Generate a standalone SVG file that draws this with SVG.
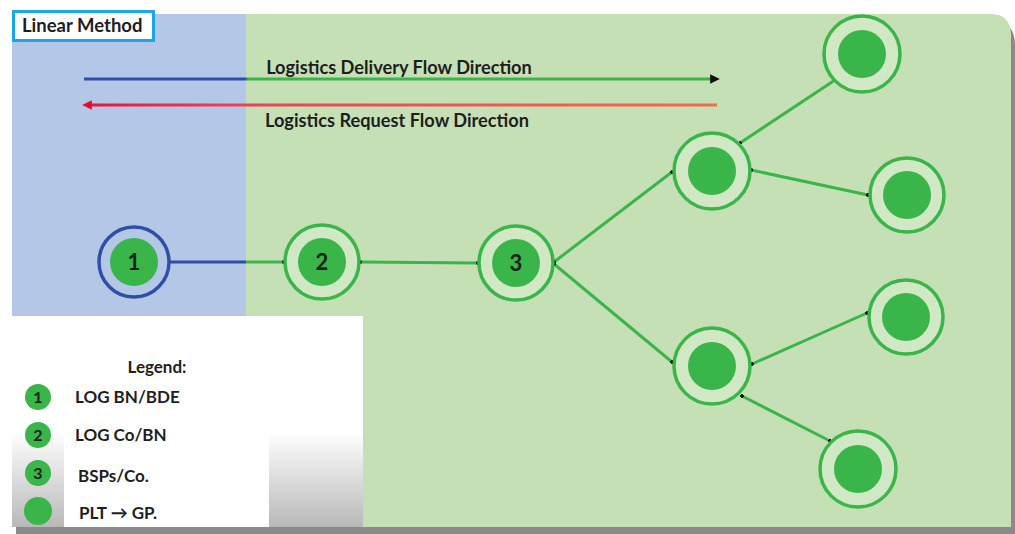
<svg xmlns="http://www.w3.org/2000/svg" width="1015" height="534" viewBox="0 0 1015 534">
<defs>
<style>
.t{font-family:Lato,"Open Sans","Liberation Sans",sans-serif;font-weight:bold;fill:#1e1e1e}
.ring{fill:#d0e8c4;stroke:#39b54a;stroke-width:3.5}
.core{fill:#39b54a}
.num{font-family:Lato,"Liberation Sans",sans-serif;font-weight:bold;font-size:22px;fill:#1a221a;text-anchor:middle}
.lnum{font-family:Lato,"Liberation Sans",sans-serif;font-weight:bold;font-size:16px;fill:#1a221a;text-anchor:middle}
.edge{stroke:#39b54a;stroke-width:3;fill:none;marker-end:url(#dot);marker-start:url(#dot)}
</style>
<marker id="dot" viewBox="0 0 4 4" refX="2" refY="2" markerWidth="1.3" markerHeight="1.3" orient="auto"><circle cx="2" cy="2" r="2" fill="#111"/></marker>
<marker id="ah" viewBox="0 0 10 10" refX="5" refY="5" markerWidth="3.2" markerHeight="3.2" orient="auto"><path d="M0,0 L10,5 L0,10 z" fill="#111"/></marker>
<marker id="ahr" viewBox="0 0 10 10" refX="5" refY="5" markerWidth="3.2" markerHeight="3.2" orient="auto-start-reverse"><path d="M0,0 L10,5 L0,10 z" fill="#e0102a"/></marker>
<linearGradient id="lg" x1="0" y1="0" x2="0" y2="1">
<stop offset="0" stop-color="#ffffff"/><stop offset="0.55" stop-color="#ffffff"/><stop offset="1" stop-color="#b8b8b8"/>
</linearGradient>
<linearGradient id="del" x1="83" y1="0" x2="718" y2="0" gradientUnits="userSpaceOnUse">
<stop offset="0" stop-color="#2e4fa8"/><stop offset="0.255" stop-color="#2e4fa8"/><stop offset="0.26" stop-color="#39b54a"/><stop offset="1" stop-color="#39b54a"/>
</linearGradient>
<linearGradient id="req" x1="83" y1="0" x2="718" y2="0" gradientUnits="userSpaceOnUse">
<stop offset="0" stop-color="#e8143a"/><stop offset="0.25" stop-color="#f0405a"/><stop offset="1" stop-color="#f26c4f"/>
</linearGradient>
</defs>
<rect width="1015" height="534" fill="#ffffff"/>
<!-- shadow -->
<path d="M16,20 H990 Q1015,20 1015,45 V534 H16 Z" fill="#8a8a8a"/>
<!-- panels -->
<path d="M246,14 H990 Q1011,14 1011,35 V527 H246 Z" fill="#c6e0b5"/>
<rect x="12" y="14" width="234" height="302" fill="#b4c7e7"/>
<g id="legend">
<rect x="12" y="316" width="351" height="211" fill="url(#lg)"/>
<rect x="64" y="362" width="205" height="165" fill="#ffffff"/>
<text class="t" x="157" y="373" font-size="17" text-anchor="middle">Legend:</text>
<circle class="core" cx="38" cy="397" r="13"/><text class="lnum" x="38" y="403">1</text>
<text class="t" x="75" y="403" font-size="17">LOG BN/BDE</text>
<circle class="core" cx="38" cy="435" r="13"/><text class="lnum" x="38" y="441">2</text>
<text class="t" x="75" y="441" font-size="17">LOG Co/BN</text>
<circle class="core" cx="38" cy="473" r="13"/><text class="lnum" x="38" y="479">3</text>
<text class="t" x="78" y="482" font-size="17">BSPs/Co.</text>
<circle class="core" cx="38" cy="511" r="14"/>
<text class="t" x="79" y="519" font-size="17">PLT → GP.</text>
</g>
<g id="title">
<rect x="13.5" y="11.5" width="140" height="29" fill="#ffffff" stroke="#1ba6e6" stroke-width="3"/>
<text class="t" x="22" y="32" font-size="18.5">Linear Method</text>
</g>
<g id="flows">
<line x1="84" y1="79" x2="715" y2="79" stroke="url(#del)" stroke-width="3" marker-end="url(#ah)"/>
<line x1="87" y1="105" x2="717" y2="105" stroke="url(#req)" stroke-width="3" marker-start="url(#ahr)"/>
<text class="t" x="399" y="74" font-size="18.2" text-anchor="middle">Logistics Delivery Flow Direction</text>
<text class="t" x="397" y="127" font-size="18.2" text-anchor="middle">Logistics Request Flow Direction</text>
</g>
<g id="connectors">
<line x1="161" y1="262" x2="246" y2="262" stroke="#2e4fa8" stroke-width="3"/>
<line x1="246" y1="262" x2="284" y2="262" stroke="#39b54a" stroke-width="3" marker-end="url(#dot)"/>
<line class="edge" x1="360" y1="262" x2="478" y2="263"/>
<line class="edge" x1="554" y1="262" x2="672" y2="172"/>
<line class="edge" x1="554" y1="264" x2="672" y2="362"/>
<line class="edge" x1="740" y1="143" x2="835" y2="80"/>
<line class="edge" x1="751" y1="170" x2="868" y2="195"/>
<line class="edge" x1="752" y1="364" x2="867" y2="313"/>
<line class="edge" x1="742" y1="396" x2="830" y2="441"/>
</g>
<g id="n1"><circle cx="134" cy="262" r="35" fill="#b4c7e7" stroke="#2e4fa8" stroke-width="3.5"/><circle class="core" cx="134" cy="262" r="24"/><text class="num" x="134" y="270">1</text></g>
<g id="n2"><circle class="ring" cx="322" cy="262" r="37"/><circle class="core" cx="322" cy="262" r="24"/><text class="num" x="322" y="270">2</text></g>
<g id="n3"><circle class="ring" cx="516" cy="263" r="37"/><circle class="core" cx="516" cy="263" r="24"/><text class="num" x="516" y="271">3</text></g>
<g id="n4"><circle class="ring" cx="712" cy="171" r="38"/><circle class="core" cx="712" cy="171" r="24"/></g>
<g id="n5"><circle class="ring" cx="712" cy="366" r="38"/><circle class="core" cx="712" cy="366" r="24"/></g>
<g id="n6"><circle class="ring" cx="862" cy="54" r="38"/><circle class="core" cx="862" cy="54" r="24"/></g>
<g id="n7"><circle class="ring" cx="907" cy="195" r="37"/><circle class="core" cx="907" cy="195" r="24"/></g>
<g id="n8"><circle class="ring" cx="906" cy="317" r="37"/><circle class="core" cx="906" cy="317" r="24"/></g>
<g id="n9"><circle class="ring" cx="858" cy="469" r="38"/><circle class="core" cx="858" cy="469" r="24"/></g>
</svg>
